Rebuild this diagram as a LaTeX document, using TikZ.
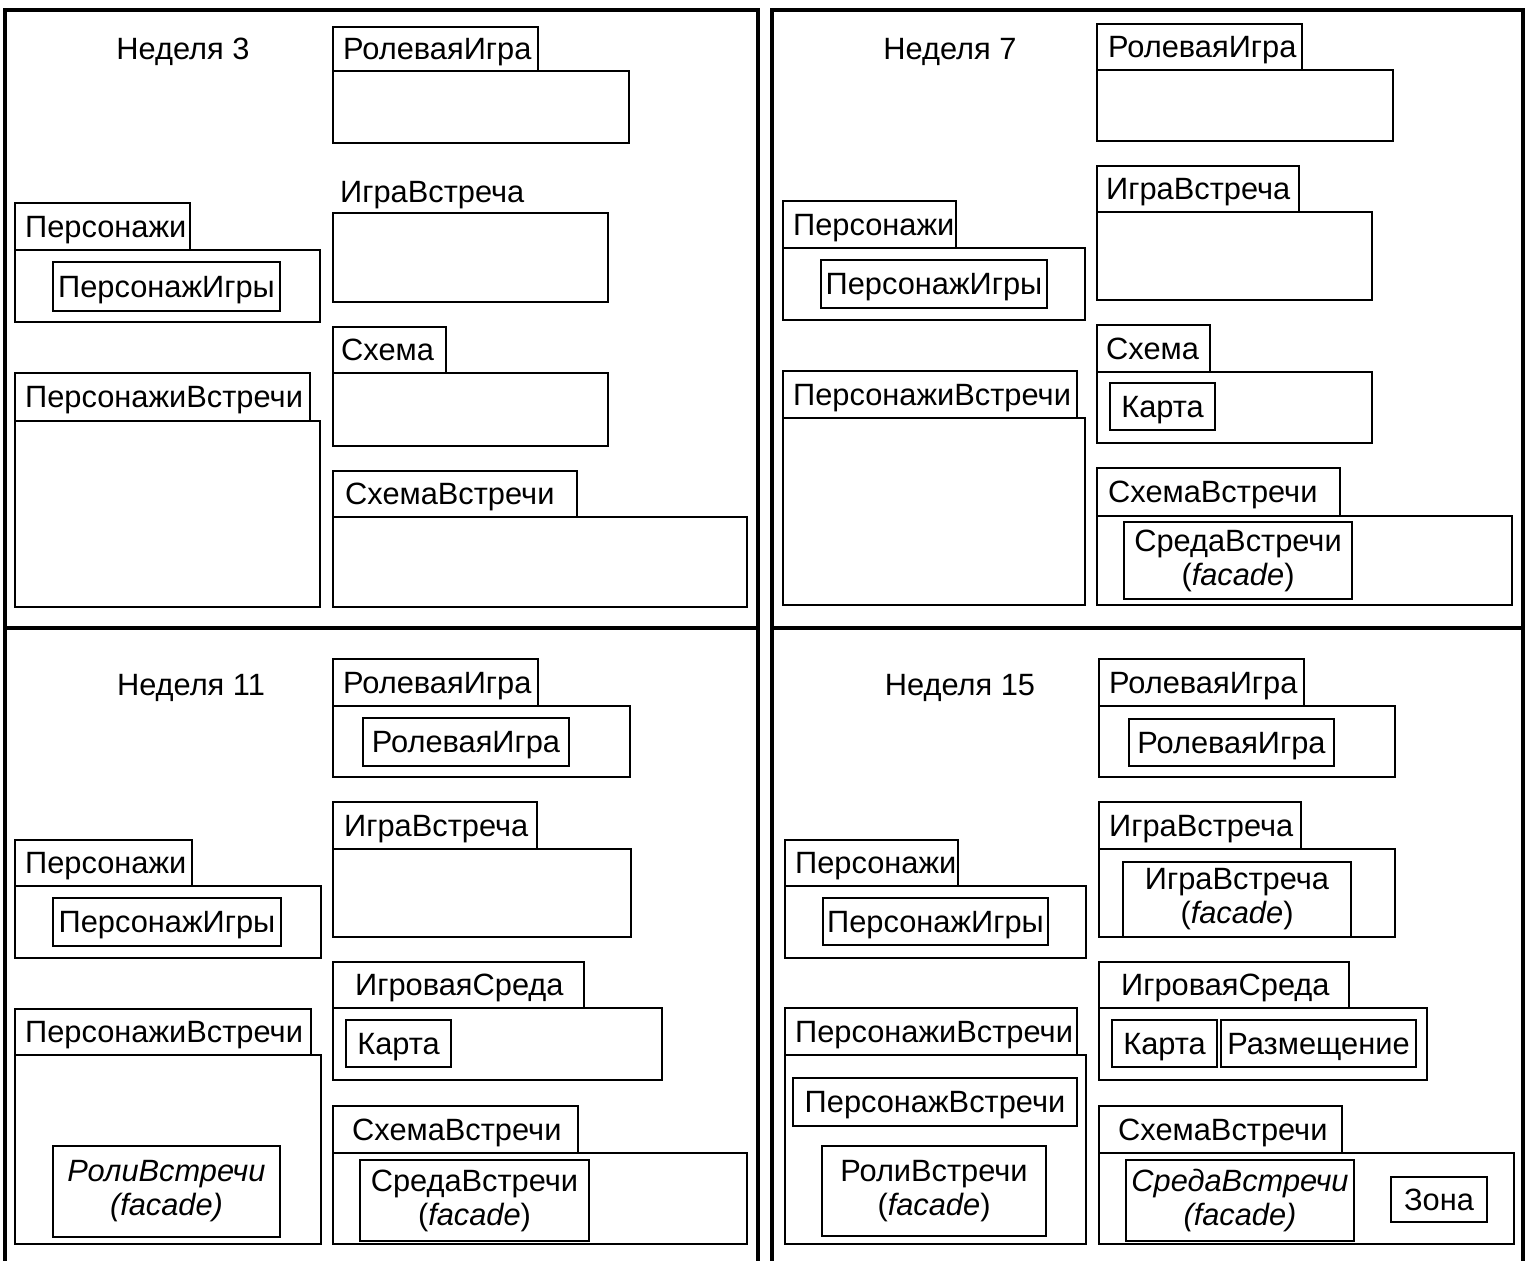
\documentclass[tikz,border=0pt]{standalone}
\usepackage{fontspec}
\setmainfont{Liberation Sans}
\tikzset{
  frame/.style={line width=3.2pt},
  box/.style={line width=2.8pt},
  lbl/.style={inner sep=0pt, font=\fontsize{30.8}{34}\selectfont},
  lblit/.style={inner sep=0pt, font=\fontsize{30.8}{34}\selectfont\itshape},
}
% name, label, text x, x1, tab top, tab right, body top, body right, body bottom
\newcommand\tabpkg[9]{%
  \draw[box] (#4,#5) rectangle (#6,#7);
  \draw[box] (#4,#7) rectangle (#8,#9);
  \node[lbl, anchor=base west] (#1) at (#3,{(#5+#7)/2+10.8}) {#2};
}
% name, x1, y1, x2, y2, text
\newcommand\inbox[6]{%
  \draw[box] (#2,#3) rectangle (#4,#5);
  \node[lbl, anchor=base] (#1) at ({(#2+#4)/2},{(#3+#5)/2+10.8}) {#6};
}
% name, x1, y1, x2, y2, text, style
\newcommand\inboxii[7]{%
  \draw[box] (#2,#3) rectangle (#4,#5);
  \node[#7, align=center] (#1) at ({(#2+#4)/2},{(#3+#5)/2}) {#6};
}
\begin{document}
\begin{tikzpicture}[x=1pt,y=-1pt]
\useasboundingbox (0,0) rectangle (1530,1260);
% frames
\draw[frame] (5,1265) -- (5,10) -- (758,10) -- (758,1265);
\draw[frame] (5,628) -- (758,628);
\draw[frame] (772,1265) -- (772,10) -- (1523,10) -- (1523,1265);
\draw[frame] (772,628) -- (1523,628);

% ---------- Week 3 ----------
\node[lbl, anchor=base] (w3) at (183,60) {Неделя 3};
\tabpkg{a-ri}{РолеваяИгра}{343}{333}{27}{538}{71}{629}{143}
\node[lbl, anchor=base west] (a-ig) at (340,202) {ИграВстреча};
\draw[box] (333,213) rectangle (608,302);
\tabpkg{a-p}{Персонажи}{25}{15}{203}{190}{250}{320}{322}
\inbox{a-pi}{53}{262}{280}{311}{ПерсонажИгры}
\tabpkg{a-s}{Схема}{341}{333}{327}{446}{373}{608}{446}
\tabpkg{a-pv}{ПерсонажиВстречи}{25}{15}{373}{310}{421}{320}{607}
\tabpkg{a-sv}{СхемаВстречи}{345}{333}{471}{577}{517}{747}{607}

% ---------- Week 7 ----------
\node[lbl, anchor=base] (w7) at (950,60) {Неделя 7};
\tabpkg{b-ri}{РолеваяИгра}{1108}{1097}{24}{1302}{70}{1393}{141}
\tabpkg{b-ig}{ИграВстреча}{1106}{1097}{166}{1299}{212}{1372}{300}
\tabpkg{b-p}{Персонажи}{793}{783}{201}{956}{248}{1085}{320}
\inbox{b-pi}{821}{260}{1047}{308}{ПерсонажИгры}
\tabpkg{b-s}{Схема}{1106}{1097}{325}{1210}{372}{1372}{443}
\inbox{b-k}{1110}{383}{1215}{430}{Карта}
\tabpkg{b-pv}{ПерсонажиВстречи}{793}{783}{371}{1077}{418}{1085}{605}
\tabpkg{b-sv}{СхемаВстречи}{1108}{1097}{468}{1340}{516}{1512}{605}
\inboxii{b-sr}{1124}{522}{1352}{599}{СредаВстречи\\(\textit{facade})}{lbl}

% ---------- Week 11 ----------
\node[lbl, anchor=base] (w11) at (191,695) {Неделя 11};
\tabpkg{c-ri}{РолеваяИгра}{343}{333}{659}{538}{706}{630}{777}
\inbox{c-rii}{363}{718}{569}{766}{РолеваяИгра}
\tabpkg{c-ig}{ИграВстреча}{344}{333}{802}{537}{849}{631}{937}
\tabpkg{c-p}{Персонажи}{25}{15}{840}{192}{886}{321}{958}
\inbox{c-pi}{53}{898}{281}{946}{ПерсонажИгры}
\tabpkg{c-is}{ИгроваяСреда}{355}{333}{962}{584}{1008}{662}{1080}
\inbox{c-k}{346}{1020}{451}{1067}{Карта}
\tabpkg{c-pv}{ПерсонажиВстречи}{25}{15}{1009}{311}{1055}{321}{1244}
\inboxii{c-rv}{53}{1146}{280}{1237}{РолиВстречи\\(facade)}{lblit}
\tabpkg{c-sv}{СхемаВстречи}{352}{333}{1106}{578}{1153}{747}{1244}
\inboxii{c-sr}{360}{1160}{589}{1241}{СредаВстречи\\(\textit{facade})}{lbl}

% ---------- Week 15 ----------
\node[lbl, anchor=base] (w15) at (960,695) {Неделя 15};
\tabpkg{d-ri}{РолеваяИгра}{1109}{1099}{659}{1304}{706}{1395}{777}
\inbox{d-rii}{1129}{719}{1334}{766}{РолеваяИгра}
\tabpkg{d-ig}{ИграВстреча}{1109}{1099}{802}{1301}{849}{1395}{937}
\inboxii{d-igf}{1123}{862}{1351}{937}{ИграВстреча\\(\textit{facade})}{lbl}
\tabpkg{d-p}{Персонажи}{795}{785}{840}{958}{886}{1086}{958}
\inbox{d-pi}{823}{898}{1048}{945}{ПерсонажИгры}
\tabpkg{d-is}{ИгроваяСреда}{1121}{1099}{962}{1349}{1008}{1427}{1080}
\inbox{d-k}{1112}{1020}{1217}{1067}{Карта}
\inbox{d-rz}{1221}{1020}{1416}{1067}{Размещение}
\tabpkg{d-pv}{ПерсонажиВстречи}{795}{785}{1008}{1077}{1055}{1086}{1244}
\inbox{d-pvv}{793}{1078}{1077}{1126}{ПерсонажВстречи}
\inboxii{d-rv}{822}{1146}{1046}{1236}{РолиВстречи\\(\textit{facade})}{lbl}
\tabpkg{d-sv}{СхемаВстречи}{1118}{1099}{1106}{1342}{1153}{1514}{1244}
\inboxii{d-sr}{1126}{1160}{1354}{1241}{СредаВстречи\\(facade)}{lblit}
\inbox{d-z}{1391}{1177}{1487}{1222}{Зона}
\end{tikzpicture}
\end{document}
